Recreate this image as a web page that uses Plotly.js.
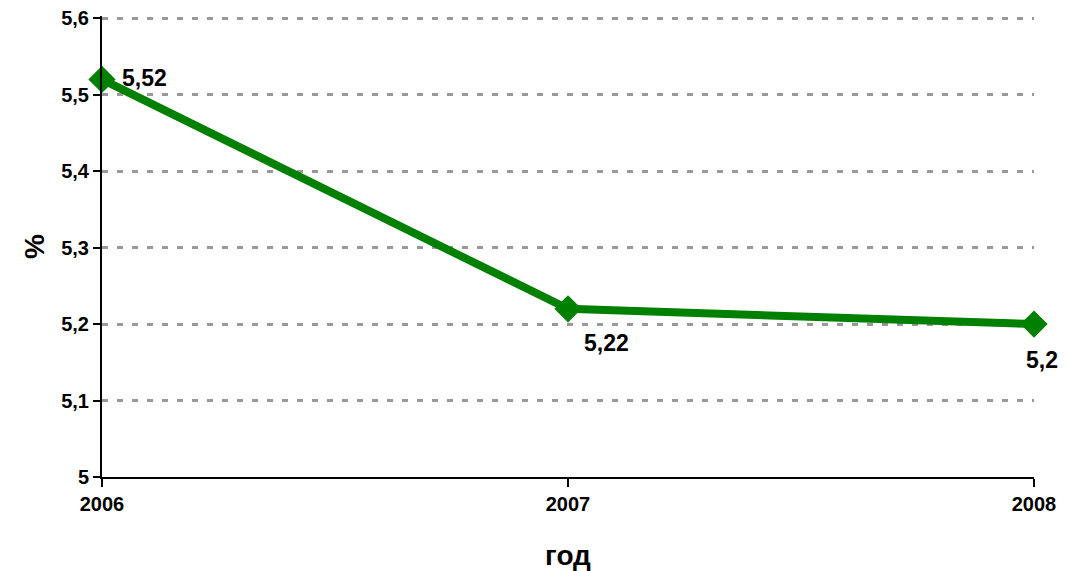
<!DOCTYPE html>
<html>
<head>
<meta charset="utf-8">
<script src="https://cdn.plot.ly/plotly-3.0.1.min.js"></script>
<style>html,body{margin:0;padding:0;background:#fff;}#chart{width:1066px;height:571px;}</style>
</head>
<body>
<div id="chart"></div>
<script>
const years = [2006, 2007, 2008];
const values = [5.52, 5.22, 5.2];
const labels = ["5,52", "5,22", "5,2"];
const yTicks = [5, 5.1, 5.2, 5.3, 5.4, 5.5, 5.6];
const yTickText = ["5", "5,1", "5,2", "5,3", "5,4", "5,5", "5,6"];
const xTickText = ["2006", "2007", "2008"];

const font = "Arial, 'Liberation Sans', sans-serif";
const b = s => "<b>" + s + "</b>";

const trace = {
  x: years,
  y: values,
  mode: "lines+markers",
  line: {color: "#008000", width: 8},
  marker: {symbol: "diamond", size: 21, color: "#008000"},
  cliponaxis: false,
  hoverinfo: "none"
};

// label placement relative to each point (styling only)
const labelStyle = [
  {xanchor: "left", xshift: 18, yshift: 1},
  {xanchor: "left", xshift: 14, yshift: -34},
  {xanchor: "center", xshift: 8, yshift: -36}
];

const annotations = years.map((yr, i) => ({
  x: yr, y: values[i], text: b(labels[i]), showarrow: false,
  xanchor: labelStyle[i].xanchor, yanchor: "middle",
  xshift: labelStyle[i].xshift, yshift: labelStyle[i].yshift,
  font: {family: font, size: 23, color: "#000"}
}));

const layout = {
  width: 1066,
  height: 571,
  margin: {l: 102, r: 32, t: 16, b: 94},
  paper_bgcolor: "#fff",
  plot_bgcolor: "#fff",
  showlegend: false,
  font: {family: font, color: "#000"},
  annotations: annotations,
  xaxis: {
    range: [2006, 2008],
    tickvals: years,
    ticktext: xTickText.map(b),
    ticks: "outside",
    ticklen: 8,
    tickwidth: 2,
    tickcolor: "#000",
    showline: true,
    linecolor: "#000",
    linewidth: 2,
    showgrid: false,
    zeroline: false,
    tickfont: {family: font, size: 20},
    title: {text: b("год"), font: {family: font, size: 28}, standoff: 32}
  },
  yaxis: {
    range: [5, 5.603],
    tickvals: yTicks,
    ticktext: yTickText.map(b),
    ticks: "outside",
    ticklen: 7,
    tickwidth: 2,
    tickcolor: "#000",
    showline: true,
    linecolor: "#000",
    linewidth: 2,
    showgrid: true,
    gridcolor: "#999",
    gridwidth: 3,
    griddash: "6px,9px",
    zeroline: false,
    tickfont: {family: font, size: 20},
    title: {text: b("%"), font: {family: font, size: 28}, standoff: 8}
  }
};

Plotly.newPlot("chart", [trace], layout, {displayModeBar: false, staticPlot: true});
</script>
</body>
</html>
